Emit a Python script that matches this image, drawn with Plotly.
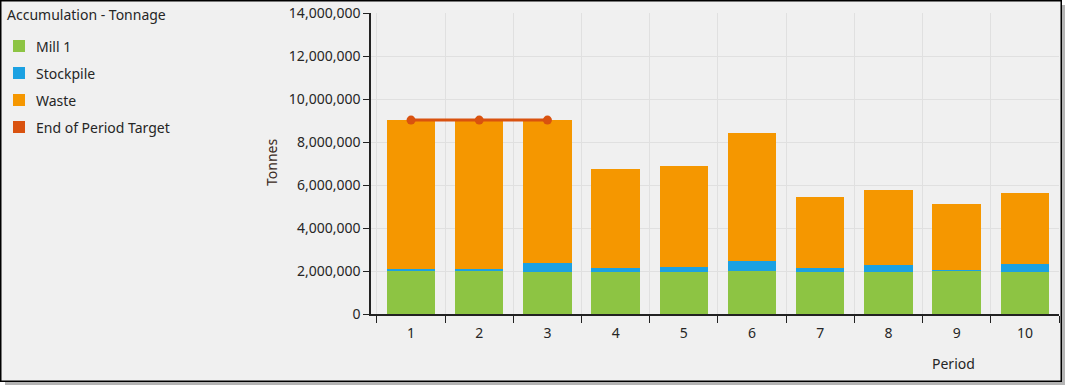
import plotly.graph_objects as go

periods = ["1", "2", "3", "4", "5", "6", "7", "8", "9", "10"]
mill = [2000000, 2000000, 1950000, 1950000, 1950000, 2000000, 1950000, 1950000, 2000000, 1950000]
stockpile = [90000, 90000, 420000, 210000, 240000, 470000, 210000, 310000, 50000, 390000]
waste = [6930000, 6930000, 6650000, 4580000, 4690000, 5950000, 3280000, 3510000, 3070000, 3290000]
target_periods = ["1", "2", "3"]
target = [9020000, 9020000, 9020000]
y_ticks = [0, 2000000, 4000000, 6000000, 8000000, 10000000, 12000000, 14000000]

C_MILL = "#8dc443"
C_STOCK = "#1ba1e2"
C_WASTE = "#f59700"
C_TARGET = "#d9520f"
FONT = "Noto Sans"
TXT = "#262626"

W, H = 1068, 388
L, R, T, B = 371, 1059, 13, 314

def px(x):
    return (x - L) / (R - L)

def py(y):
    return (B - y) / (B - T)

fig = go.Figure()
fig.add_bar(x=periods, y=mill, name="Mill 1", marker_color=C_MILL, showlegend=False)
fig.add_bar(x=periods, y=stockpile, name="Stockpile", marker_color=C_STOCK, showlegend=False)
fig.add_bar(x=periods, y=waste, name="Waste", marker_color=C_WASTE, showlegend=False)
fig.add_scatter(x=target_periods, y=target, name="End of Period Target", mode="lines+markers",
                line=dict(color=C_TARGET, width=3), marker=dict(color=C_TARGET, size=9),
                showlegend=False)

shapes = []
annotations = []

legend_items = [("Mill 1", C_MILL), ("Stockpile", C_STOCK), ("Waste", C_WASTE),
                ("End of Period Target", C_TARGET)]
for i, (name, col) in enumerate(legend_items):
    cy = 46 + 27 * i
    shapes.append(dict(type="rect", xref="paper", yref="paper",
                       x0=px(13), x1=px(25), y0=py(cy - 6), y1=py(cy + 6),
                       fillcolor=col, line=dict(width=0)))
    annotations.append(dict(xref="paper", yref="paper", x=px(34), y=py(cy), text=name,
                            showarrow=False, xanchor="left", yanchor="middle",
                            font=dict(family=FONT, size=14, color=TXT)))

annotations.append(dict(xref="paper", yref="paper", x=px(5), y=py(14), text="Accumulation - Tonnage",
                        showarrow=False, xanchor="left", yanchor="middle",
                        font=dict(family=FONT, size=14, color=TXT)))
annotations.append(dict(xref="paper", yref="paper", x=px(271), y=py(163), text="Tonnes",
                        showarrow=False, xanchor="center", yanchor="middle", textangle=-90,
                        font=dict(family=FONT, size=14, color="#3a2a22")))
annotations.append(dict(xref="paper", yref="paper", x=px(953), y=py(363), text="Period",
                        showarrow=False, xanchor="center", yanchor="middle",
                        font=dict(family=FONT, size=14, color=TXT)))

shapes.append(dict(type="rect", xref="paper", yref="paper", x0=px(1062), x1=px(W),
                   y0=py(0), y1=py(H), fillcolor="white", line=dict(width=0)))
shapes.append(dict(type="rect", xref="paper", yref="paper", x0=px(0), x1=px(W),
                   y0=py(382), y1=py(H), fillcolor="white", line=dict(width=0)))
shapes.append(dict(type="rect", xref="paper", yref="paper", x0=px(5), x1=px(1065),
                   y0=py(382), y1=py(385), fillcolor="#b4b4b4", line=dict(width=0)))
shapes.append(dict(type="rect", xref="paper", yref="paper", x0=px(1062), x1=px(1065),
                   y0=py(5), y1=py(385), fillcolor="#b4b4b4", line=dict(width=0)))
shapes.append(dict(type="rect", xref="paper", yref="paper", x0=px(0.75), x1=px(1061.25),
                   y0=py(0.75), y1=py(381.25), fillcolor="rgba(0,0,0,0)",
                   line=dict(color="#000000", width=1.5)))

fig.update_layout(
    template="none",
    width=W, height=H, autosize=False,
    margin=dict(l=L, r=W - R, t=T, b=H - B, pad=0),
    barmode="stack", bargap=0.29,
    paper_bgcolor="#f0f0f0", plot_bgcolor="#f0f0f0",
    font=dict(family=FONT, size=14, color=TXT),
    showlegend=False,
    shapes=shapes, annotations=annotations,
    xaxis=dict(type="category", tickson="boundaries", ticks="outside", ticklen=7,
               tickcolor="#222", tickwidth=1.2, showgrid=True, gridcolor="#e0e0e0",
               gridwidth=1, showline=True, linecolor="#222", linewidth=1.5,
               automargin=False, zeroline=False,
               tickfont=dict(family=FONT, size=14, color=TXT), ticklabelstandoff=5),
    yaxis=dict(range=[0, 14000000], tickvals=y_ticks, tickformat=",d", ticks="outside",
               ticklen=6, tickcolor="#222", tickwidth=1.2, showgrid=True,
               gridcolor="#e0e0e0", gridwidth=1, showline=True, linecolor="#222",
               linewidth=1.5, zeroline=False, automargin=False,
               tickfont=dict(family=FONT, size=14, color=TXT)),
)

fig.write_html("out.html", config={"displayModeBar": False},
               post_script="document.body.style.margin='0';document.body.style.padding='0';document.documentElement.style.overflow='hidden';")
